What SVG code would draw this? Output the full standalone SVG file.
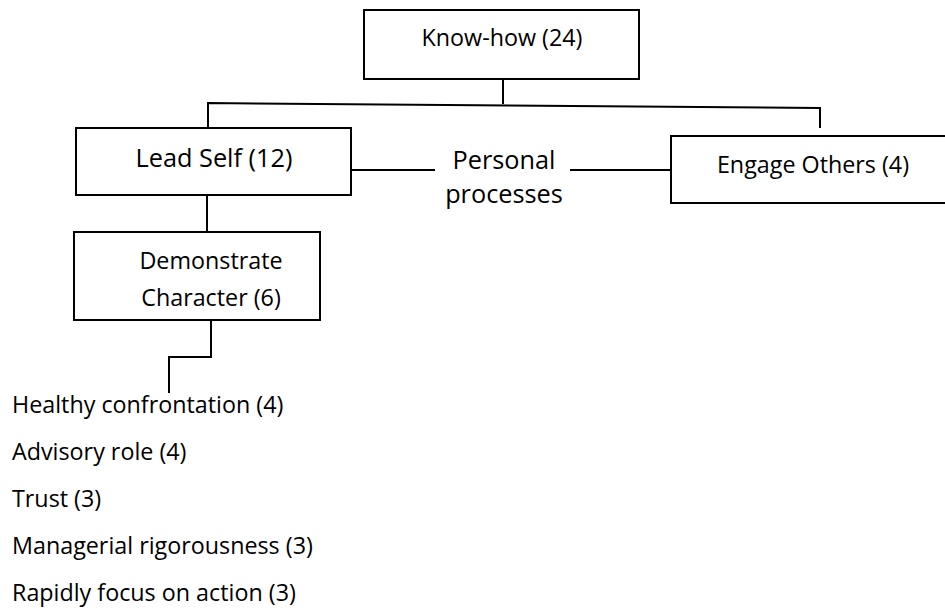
<svg xmlns="http://www.w3.org/2000/svg" width="945" height="611" viewBox="0 0 945 611">
  <style>
    .box { fill: #ffffff; stroke: #000000; stroke-width: 2; }
    .wire { fill: none; stroke: #000000; stroke-width: 2; }
    text { font-family: "Open Sans", "Noto Sans", "Liberation Sans", sans-serif; font-size: 23.3px; fill: #000000; }
    .mid { text-anchor: middle; }
    .big { font-size: 25.3px; }
  </style>
  <rect width="945" height="611" fill="#ffffff"/>

  <g id="connectors">
    <path class="wire" d="M503,79 V104"/>
    <path class="wire" d="M208,128 V103 L820,108 V128"/>
    <path class="wire" d="M351,170 H435"/>
    <path class="wire" d="M570,170 H671"/>
    <path class="wire" d="M207,195 V232"/>
    <path class="wire" d="M211,320 V357 H169 V393"/>
  </g>

  <g id="know-how">
    <rect class="box" x="364" y="10" width="275" height="69"/>
    <text class="mid" x="502" y="46">Know-how (24)</text>
  </g>

  <g id="lead-self">
    <rect class="box" x="76" y="128" width="275" height="67"/>
    <text class="mid big" x="214" y="167">Lead Self (12)</text>
  </g>

  <g id="personal-processes">
    <text class="mid big" x="504" y="169">Personal</text>
    <text class="mid big" x="504" y="203">processes</text>
  </g>

  <g id="engage-others">
    <rect class="box" x="671" y="136" width="290" height="67"/>
    <text class="mid" x="813" y="173">Engage Others (4)</text>
  </g>

  <g id="demonstrate-character">
    <rect class="box" x="74" y="232" width="246" height="88"/>
    <text class="mid" x="211" y="269">Demonstrate</text>
    <text class="mid" x="211" y="306">Character (6)</text>
  </g>

  <g id="traits">
    <text x="12" y="413">Healthy confrontation (4)</text>
    <text x="12" y="460">Advisory role (4)</text>
    <text x="12" y="507">Trust (3)</text>
    <text x="12" y="554">Managerial rigorousness (3)</text>
    <text x="12" y="601">Rapidly focus on action (3)</text>
  </g>
</svg>
